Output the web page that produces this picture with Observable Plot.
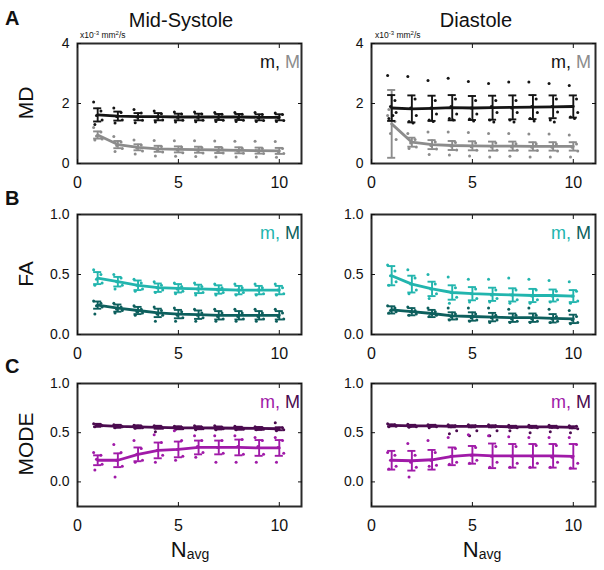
<!DOCTYPE html>
<html><head><meta charset="utf-8">
<script src="https://cdn.jsdelivr.net/npm/d3@7"></script>
<script src="https://cdn.jsdelivr.net/npm/@observablehq/plot@0.6"></script>
<style>
body{margin:0;background:#fff;}
#root{position:relative;width:604px;height:570px;overflow:hidden;font-family:"Liberation Sans",Arial,Helvetica,sans-serif;}
#root svg.panel{position:absolute;}
#overlay{position:absolute;left:0;top:0;pointer-events:none;}
</style></head><body><div id="root"></div>
<script>
// ---------- shared ----------
const nAvg = [1,2,3,4,5,6,7,8,9,10];
const xTicks = [0,5,10];
const mdTicks = [0,2,4];
const fracTicks = [0,0.5,1.0];

// ---------- A: MD, Mid-Systole ----------
const sysMD_m_mean = [1.62,1.58,1.56,1.56,1.55,1.55,1.55,1.55,1.54,1.54];
const sysMD_m_sd   = [0.22,0.15,0.12,0.12,0.11,0.11,0.10,0.10,0.10,0.10];
const sysMD_m_subj = [
  [2.05,1.85,1.80,1.75,1.72,1.72,1.70,1.70,1.70,1.68],
  [1.75,1.70,1.68,1.66,1.65,1.65,1.64,1.64,1.63,1.63],
  [1.60,1.57,1.55,1.55,1.54,1.54,1.54,1.53,1.53,1.53],
  [1.45,1.45,1.44,1.45,1.44,1.44,1.44,1.44,1.43,1.43],
  [1.30,1.35,1.36,1.38,1.38,1.39,1.40,1.40,1.40,1.40]];
const sysMD_M_mean = [0.95,0.63,0.54,0.49,0.47,0.46,0.45,0.44,0.43,0.42];
const sysMD_M_sd   = [0.12,0.12,0.10,0.10,0.10,0.10,0.10,0.10,0.10,0.10];
const sysMD_M_subj = [
  [1.20,0.90,0.78,0.77,0.76,0.76,0.75,0.74,0.74,0.73],
  [1.05,0.72,0.62,0.57,0.55,0.53,0.52,0.51,0.50,0.50],
  [0.92,0.60,0.52,0.47,0.45,0.44,0.43,0.42,0.41,0.40],
  [0.82,0.50,0.42,0.38,0.36,0.35,0.35,0.34,0.33,0.33],
  [0.78,0.40,0.32,0.25,0.24,0.23,0.22,0.22,0.22,0.21]];

// ---------- A: MD, Diastole ----------
const diaMD_m_mean = [1.85,1.82,1.84,1.86,1.85,1.86,1.87,1.88,1.89,1.90];
const diaMD_m_sd   = [0.43,0.45,0.42,0.42,0.40,0.40,0.40,0.40,0.38,0.37];
const diaMD_m_subj = [
  [2.93,2.90,2.77,2.84,2.73,2.67,2.72,2.72,2.67,2.60],
  [2.10,2.15,2.10,2.15,2.10,2.10,2.10,2.15,2.15,2.15],
  [1.90,1.85,1.85,1.90,1.85,1.90,1.85,1.90,1.90,1.90],
  [1.70,1.60,1.65,1.65,1.65,1.70,1.70,1.70,1.72,1.70],
  [1.50,1.40,1.45,1.50,1.48,1.45,1.45,1.50,1.45,1.55],
  [1.60,1.35,1.40,1.45,1.42,1.38,1.38,1.42,1.38,1.50]];
const diaMD_M_mean = [1.32,0.71,0.63,0.60,0.59,0.58,0.58,0.57,0.57,0.57];
const diaMD_M_sd   = [1.13,0.15,0.15,0.15,0.15,0.15,0.15,0.14,0.14,0.14];
const diaMD_M_subj = [
  [1.60,1.00,1.05,1.05,1.03,1.00,1.00,0.98,0.98,0.95],
  [1.40,0.80,0.72,0.70,0.68,0.68,0.66,0.66,0.65,0.65],
  [1.00,0.68,0.60,0.58,0.56,0.55,0.55,0.54,0.54,0.54],
  [0.80,0.55,0.48,0.45,0.44,0.44,0.44,0.43,0.42,0.42],
  [1.80,0.50,0.30,0.28,0.25,0.22,0.24,0.22,0.22,0.22]];

// ---------- B: FA, Mid-Systole ----------
const sysFA_m_mean = [0.47,0.44,0.41,0.39,0.385,0.38,0.375,0.37,0.37,0.37];
const sysFA_m_sd   = [0.05,0.04,0.04,0.035,0.035,0.035,0.035,0.035,0.035,0.035];
const sysFA_m_subj = [
  [0.54,0.50,0.46,0.44,0.43,0.43,0.42,0.42,0.42,0.42],
  [0.50,0.47,0.43,0.41,0.40,0.40,0.39,0.39,0.39,0.39],
  [0.46,0.44,0.41,0.39,0.38,0.38,0.37,0.37,0.37,0.37],
  [0.43,0.41,0.38,0.37,0.36,0.35,0.35,0.35,0.34,0.34],
  [0.41,0.38,0.36,0.35,0.34,0.33,0.33,0.33,0.33,0.33]];
const sysFA_M_mean = [0.245,0.22,0.20,0.18,0.17,0.165,0.16,0.16,0.16,0.16];
const sysFA_M_sd   = [0.03,0.03,0.03,0.035,0.035,0.035,0.035,0.035,0.035,0.035];
const sysFA_M_subj = [
  [0.28,0.26,0.24,0.23,0.22,0.21,0.21,0.21,0.21,0.21],
  [0.26,0.23,0.21,0.20,0.19,0.18,0.18,0.18,0.18,0.18],
  [0.24,0.21,0.19,0.17,0.16,0.16,0.15,0.15,0.15,0.15],
  [0.23,0.20,0.18,0.16,0.14,0.14,0.13,0.13,0.13,0.13],
  [0.17,0.18,0.16,0.11,0.11,0.11,0.11,0.11,0.11,0.11]];

// ---------- B: FA, Diastole ----------
const diaFA_m_mean = [0.49,0.42,0.38,0.35,0.34,0.335,0.33,0.325,0.325,0.32];
const diaFA_m_sd   = [0.08,0.07,0.06,0.06,0.055,0.055,0.055,0.055,0.05,0.05];
const diaFA_m_subj = [
  [0.58,0.54,0.50,0.48,0.46,0.46,0.47,0.46,0.45,0.44],
  [0.53,0.47,0.42,0.39,0.38,0.37,0.37,0.37,0.36,0.36],
  [0.49,0.42,0.38,0.35,0.34,0.33,0.33,0.32,0.32,0.32],
  [0.44,0.37,0.34,0.31,0.30,0.30,0.29,0.29,0.29,0.28],
  [0.41,0.34,0.30,0.26,0.27,0.27,0.26,0.26,0.27,0.26]];
const diaFA_M_mean = [0.205,0.19,0.175,0.155,0.15,0.145,0.14,0.14,0.135,0.13];
const diaFA_M_sd   = [0.03,0.03,0.03,0.03,0.035,0.035,0.035,0.035,0.035,0.035];
const diaFA_M_subj = [
  [0.24,0.23,0.22,0.22,0.22,0.22,0.21,0.22,0.21,0.20],
  [0.22,0.20,0.19,0.17,0.17,0.16,0.16,0.16,0.15,0.15],
  [0.20,0.19,0.17,0.15,0.14,0.14,0.13,0.13,0.13,0.12],
  [0.19,0.17,0.16,0.13,0.12,0.12,0.11,0.11,0.11,0.10],
  [0.18,0.16,0.15,0.12,0.11,0.10,0.10,0.10,0.10,0.09]];

// ---------- C: MODE, Mid-Systole ----------
const sysMO_m_mean = [0.22,0.22,0.28,0.32,0.33,0.35,0.35,0.35,0.345,0.345];
const sysMO_m_sd   = [0.05,0.07,0.07,0.08,0.08,0.07,0.07,0.08,0.08,0.08];
const sysMO_m_subj = [
  [0.30,0.38,0.42,0.48,0.52,0.47,0.47,0.47,0.45,0.45],
  [0.27,0.30,0.34,0.40,0.42,0.42,0.42,0.43,0.42,0.42],
  [0.23,0.22,0.28,0.32,0.33,0.36,0.35,0.36,0.36,0.35],
  [0.18,0.16,0.22,0.27,0.26,0.30,0.29,0.28,0.28,0.29],
  [0.12,0.05,0.20,0.20,0.22,0.25,0.20,0.20,0.20,0.20]];
const sysMO_M_mean = [0.575,0.565,0.56,0.555,0.55,0.55,0.548,0.545,0.543,0.54];
const sysMO_M_sd   = [0.015,0.015,0.015,0.015,0.015,0.015,0.015,0.015,0.015,0.015];
const sysMO_M_subj = [
  [0.59,0.58,0.575,0.57,0.565,0.57,0.57,0.565,0.56,0.60],
  [0.58,0.57,0.565,0.56,0.555,0.555,0.555,0.55,0.55,0.55],
  [0.575,0.565,0.56,0.555,0.55,0.55,0.545,0.545,0.54,0.54],
  [0.57,0.56,0.55,0.545,0.54,0.54,0.54,0.535,0.535,0.53],
  [0.56,0.55,0.545,0.51,0.535,0.53,0.53,0.53,0.53,0.52]];

// ---------- C: MODE, Diastole ----------
const diaMO_m_mean = [0.22,0.215,0.225,0.26,0.275,0.265,0.265,0.265,0.265,0.26];
const diaMO_m_sd   = [0.095,0.10,0.10,0.09,0.09,0.125,0.12,0.12,0.12,0.125];
const diaMO_m_subj = [
  [0.30,0.39,0.42,0.45,0.48,0.47,0.46,0.45,0.45,0.45],
  [0.27,0.27,0.30,0.34,0.35,0.36,0.36,0.37,0.37,0.38],
  [0.22,0.20,0.22,0.26,0.27,0.26,0.26,0.26,0.25,0.25],
  [0.16,0.15,0.17,0.20,0.22,0.20,0.19,0.19,0.20,0.19],
  [0.13,0.05,0.16,0.18,0.19,0.15,0.15,0.15,0.15,0.14]];
const diaMO_M_mean = [0.575,0.57,0.57,0.565,0.565,0.565,0.56,0.56,0.56,0.555];
const diaMO_M_sd   = [0.01,0.01,0.01,0.01,0.01,0.01,0.01,0.01,0.01,0.01];
const diaMO_M_subj = [
  [0.59,0.585,0.58,0.58,0.58,0.58,0.575,0.575,0.575,0.57],
  [0.58,0.575,0.575,0.57,0.57,0.57,0.565,0.565,0.565,0.565],
  [0.57,0.565,0.565,0.56,0.56,0.56,0.555,0.555,0.555,0.55],
  [0.565,0.56,0.56,0.52,0.52,0.52,0.55,0.55,0.55,0.54],
  [0.56,0.555,0.55,0.49,0.47,0.47,0.52,0.50,0.51,0.50]];

// ---------- labels ----------
const colTitles = ["Mid-Systole","Diastole"];
const rowLetters = ["A","B","C"];
const rowLabels = ["MD","FA","MODE"];
const seriesNames = ["m","M"];
const unitText = ["x10","-3"," mm","2","/s"];

// ---------- styling ----------
const C = {
  black:"#141414", gray:"#8c8c8c",
  teal:"#22b5ae", dteal:"#0d5f5d",
  mag:"#a01aa8", dpur:"#4b0b4f"
};
const FONT = '"Liberation Sans", Arial, Helvetica, sans-serif';
const cols = [{left:0,width:305,ml:77,mr:4},{left:300,width:304,ml:71,mr:9}];
const rowsL = [{top:43,h:120},{top:214,h:120},{top:383,h:123}];

const rowDefs = [
  {domain:[0,4], ticks:mdTicks, fmt:d=>String(d),
   colors:[C.black,C.gray],
   data:[[ [sysMD_m_mean,sysMD_m_sd,sysMD_m_subj],[sysMD_M_mean,sysMD_M_sd,sysMD_M_subj] ],
         [ [diaMD_m_mean,diaMD_m_sd,diaMD_m_subj],[diaMD_M_mean,diaMD_M_sd,diaMD_M_subj] ]]},
  {domain:[0,1], ticks:fracTicks, fmt:d3.format(".1f"),
   colors:[C.teal,C.dteal],
   data:[[ [sysFA_m_mean,sysFA_m_sd,sysFA_m_subj],[sysFA_M_mean,sysFA_M_sd,sysFA_M_subj] ],
         [ [diaFA_m_mean,diaFA_m_sd,diaFA_m_subj],[diaFA_M_mean,diaFA_M_sd,diaFA_M_subj] ]]},
  {domain:[-0.25,1], ticks:fracTicks, fmt:d3.format(".1f"),
   colors:[C.mag,C.dpur],
   data:[[ [sysMO_m_mean,sysMO_m_sd,sysMO_m_subj],[sysMO_M_mean,sysMO_M_sd,sysMO_M_subj] ],
         [ [diaMO_m_mean,diaMO_m_sd,diaMO_m_subj],[diaMO_M_mean,diaMO_M_sd,diaMO_M_subj] ]]}
];

const jitter = [-0.2,0.16,-0.06,0.22,-0.14,0.06];
const root = document.getElementById("root");

function makePanel(ri, ci){
  const rd = rowDefs[ri], col = cols[ci], rl = rowsL[ri];
  const padTop = 10, padBot = 34;
  const marks = [];
  [1,0].forEach(si=>{
    const [mean, sd, subj] = rd.data[ci][si];
    const color = rd.colors[si];
    const rows = nAvg.map((x,i)=>({x, mean:mean[i], sd:sd[i]}));
    const pts = [];
    subj.forEach((arr,k)=>arr.forEach((v,i)=>pts.push({x:nAvg[i], k, v})));
    marks.push(Plot.dot(pts,{x:d=>d.x+jitter[d.k%jitter.length], y:"v", r:1.5, fill:color, stroke:null}));
    marks.push(Plot.ruleX(rows,{x:"x", y1:d=>d.mean-d.sd, y2:d=>d.mean+d.sd, stroke:color, strokeWidth:1.9}));
    marks.push(Plot.ruleY(rows,{y:d=>d.mean+d.sd, x1:d=>d.x-0.2, x2:d=>d.x+0.2, stroke:color, strokeWidth:1.9}));
    marks.push(Plot.ruleY(rows,{y:d=>d.mean-d.sd, x1:d=>d.x-0.2, x2:d=>d.x+0.2, stroke:color, strokeWidth:1.9}));
    marks.push(Plot.line(rows,{x:"x", y:"mean", stroke:color, strokeWidth:2.8}));
  });
  marks.push(Plot.frame({stroke:"#2a2a2a", strokeWidth:2}));
  marks.push(Plot.axisX({ticks:xTicks, anchor:"bottom", tickSize:-4, tickPadding:17, fontSize:16, label:null, tickFormat:d=>String(d)}));
  marks.push(Plot.axisX({ticks:xTicks, anchor:"top", tickSize:-4, label:null, tickFormat:()=>""}));
  marks.push(Plot.axisY({ticks:rd.ticks, anchor:"left", tickSize:-4, tickPadding:12, fontSize:14, label:null, tickFormat:rd.fmt}));
  marks.push(Plot.axisY({ticks:rd.ticks, anchor:"right", tickSize:-4, label:null, tickFormat:()=>""}));
  const svg = Plot.plot({
    width: col.width, height: padTop + rl.h + padBot,
    marginLeft: col.ml, marginRight: col.mr, marginTop: padTop, marginBottom: padBot,
    x:{domain:[0,11.1]}, y:{domain:rd.domain},
    style:{background:"transparent", overflow:"visible", fontFamily:FONT, color:"#111"},
    marks
  });
  svg.classList.add("panel");
  svg.style.left = col.left + "px";
  svg.style.top = (rl.top - padTop) + "px";
  svg.style.maxWidth = "none";
  root.appendChild(svg);
}
for (let r=0;r<3;r++) for (let c=0;c<2;c++) makePanel(r,c);

// ---------- overlay text ----------
const ov = d3.select(root).append("svg").attr("id","overlay")
  .attr("width",604).attr("height",570).style("font-family",FONT);
const txtColor = "#111";
[[181,colTitles[0]],[476,colTitles[1]]].forEach(([x,t])=>
  ov.append("text").attr("x",x).attr("y",27).attr("text-anchor","middle").attr("font-size",20).attr("fill",txtColor).text(t));
[25,205,373].forEach((y,i)=>
  ov.append("text").attr("x",5).attr("y",y).attr("font-size",20).attr("font-weight","bold").attr("fill",txtColor).text(rowLetters[i]));
[103,274,444].forEach((y,i)=>
  ov.append("text").attr("transform",`translate(33,${y}) rotate(-90)`).attr("text-anchor","middle").attr("font-size",21).attr("fill",txtColor).text(rowLabels[i]));
[80,375].forEach(x=>{
  const t = ov.append("text").attr("x",x).attr("y",38).attr("font-size",8.5).attr("fill",txtColor);
  t.append("tspan").text(unitText[0]);
  t.append("tspan").attr("font-size",6).attr("dy",-3).text(unitText[1]);
  t.append("tspan").attr("dy",3).text(unitText[2]);
  t.append("tspan").attr("font-size",6).attr("dy",-3).text(unitText[3]);
  t.append("tspan").attr("dy",3).text(unitText[4]);
});
rowsL.forEach((rl,ri)=>{
  [300,591].forEach(x=>{
    const t = ov.append("text").attr("x",x).attr("y",rl.top+25).attr("text-anchor","end").attr("font-size",18);
    t.append("tspan").attr("fill",rowDefs[ri].colors[0]).text(seriesNames[0]+",");
    t.append("tspan").attr("fill",rowDefs[ri].colors[1]).text(" "+seriesNames[1]);
  });
});
[190,482].forEach(x=>{
  const t = ov.append("text").attr("x",x).attr("y",557).attr("text-anchor","middle").attr("font-size",22).attr("fill",txtColor);
  t.append("tspan").text("N");
  t.append("tspan").attr("font-size",14).attr("dy",2).text("avg");
});
</script></body></html>
